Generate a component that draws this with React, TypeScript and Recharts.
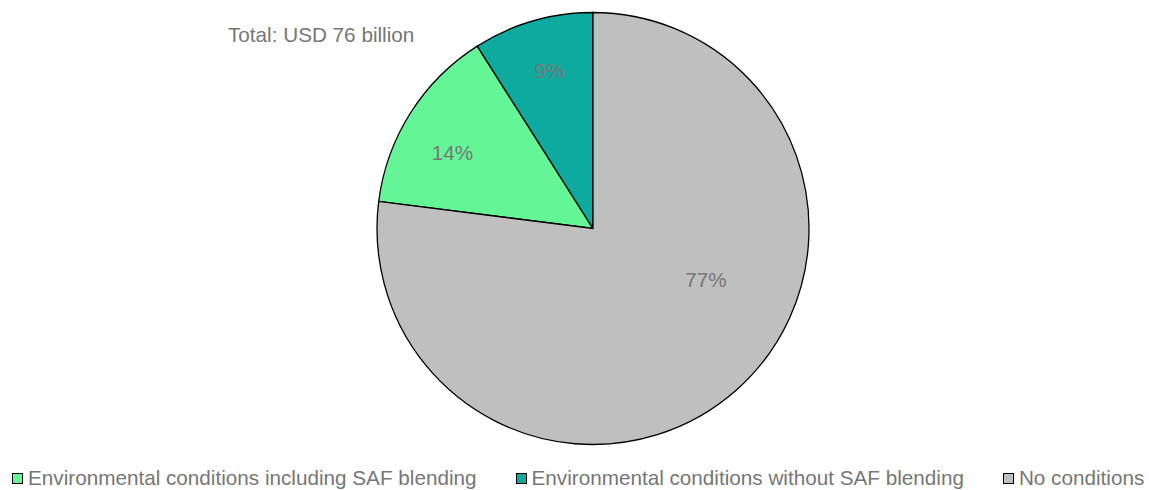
import { Cell, Legend, Pie, PieChart } from "recharts";

const categories = [
  "Environmental conditions including SAF blending",
  "Environmental conditions without SAF blending",
  "No conditions",
];
const shares = [14, 9, 77];
const colors = ["#64F596", "#0FAA9F", "#BFBFBF"];
const totalLabel = "Total: USD 76 billion";

const data = categories.map((name, i) => ({ name, value: shares[i] }));

const TEXT_COLOR = "#767676";
const FONT = "'Liberation Sans', Arial, sans-serif";
const FONT_SIZE = 20.7;
const RADIAN = Math.PI / 180;

// Excel "best fit" label placement: radius ratio and angle nudge per slice
const labelPlacement: Record<string, { ratio: number; shift: number }> = {
  "Environmental conditions including SAF blending": { ratio: 0.74, shift: 4 },
  "Environmental conditions without SAF blending": { ratio: 0.76, shift: -0.7 },
  "No conditions": { ratio: 0.575, shift: 24 },
};

const renderLabel = (props: any) => {
  const { cx, cy, midAngle, outerRadius, value, name } = props;
  const place = labelPlacement[name] ?? { ratio: 0.75, shift: 0 };
  const angle = (midAngle + place.shift) * RADIAN;
  const r = outerRadius * place.ratio;
  const x = cx + r * Math.cos(angle);
  const y = cy - r * Math.sin(angle);
  return (
    <text
      x={x}
      y={y}
      dy="0.35em"
      fill={TEXT_COLOR}
      fontFamily={FONT}
      fontSize={FONT_SIZE}
      textAnchor="middle"
    >
      {`${value}%`}
    </text>
  );
};

const renderLegend = (props: any) => {
  const items = props.payload ?? [];
  return (
    <div style={{ display: "flex", alignItems: "center", gap: 39 }}>
      {items.map((item: any) => (
        <div
          key={item.value}
          style={{ display: "flex", alignItems: "center" }}
        >
          <span
            style={{
              display: "inline-block",
              width: 9,
              height: 9,
              border: "1px solid #000",
              background: item.color,
              marginRight: 5,
              marginTop: 2,
            }}
          />
          <span
            style={{
              fontFamily: FONT,
              fontSize: FONT_SIZE,
              lineHeight: 1,
              color: TEXT_COLOR,
              whiteSpace: "nowrap",
            }}
          >
            {item.value}
          </span>
        </div>
      ))}
    </div>
  );
};

export default function App() {
  return (
    <div
      style={{
        position: "absolute",
        left: 0,
        top: 0,
        width: 1149,
        height: 490,
        background: "#fff",
      }}
    >
      <div
        style={{
          position: "absolute",
          left: 228,
          top: 24.5,
          fontFamily: FONT,
          fontSize: FONT_SIZE,
          lineHeight: 1,
          color: TEXT_COLOR,
          whiteSpace: "nowrap",
        }}
      >
        {totalLabel}
      </div>
      <PieChart
        width={1149}
        height={490}
        margin={{ top: 0, right: 0, bottom: 0, left: 0 }}
      >
        <Pie
          data={data}
          dataKey="value"
          nameKey="name"
          cx={593}
          cy={228.5}
          outerRadius={216}
          startAngle={172.8}
          endAngle={-187.2}
          stroke="#000"
          strokeWidth={1.3}
          label={renderLabel}
          labelLine={false}
          isAnimationActive={false}
        >
          {data.map((d, i) => (
            <Cell key={d.name} fill={colors[i]} />
          ))}
        </Pie>
        <Legend
          content={renderLegend}
          wrapperStyle={{ left: 12, top: 467.5, width: "auto" }}
        />
      </PieChart>
    </div>
  );
}
